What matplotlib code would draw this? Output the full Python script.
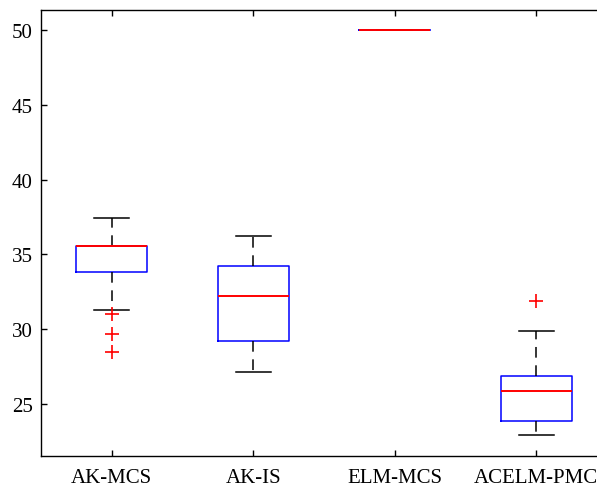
import matplotlib
matplotlib.use('Agg')
import matplotlib.pyplot as plt

plt.rcParams['font.family'] = ['Liberation Serif', 'DejaVu Serif']

# 箱线图数据
labels = ['AK-MCS', 'AK-IS', 'ELM-MCS', 'ACELM-PMC']
q1 = [33.85, 29.2, 50.0, 23.9]
med = [35.55, 32.2, 50.0, 25.9]
q3 = [35.55, 34.2, 50.0, 26.9]
whislo = [31.3, 27.15, 50.0, 22.9]
whishi = [37.4, 36.2, 50.0, 29.9]
fliers = [[31.0, 29.7, 28.45], [], [], [31.9]]

stats = []
for i in range(len(labels)):
    stats.append({'label': labels[i], 'q1': q1[i], 'med': med[i], 'q3': q3[i],
                  'whislo': whislo[i], 'whishi': whishi[i], 'fliers': fliers[i]})

fig = plt.figure(figsize=(5.97, 4.89), dpi=100)
ax = fig.add_axes([41 / 597, 32 / 489, 566 / 597, 446 / 489])

ax.bxp(stats, positions=[1, 2, 3, 4], widths=0.5, showfliers=True,
       boxprops=dict(color='blue', linewidth=1.1),
       medianprops=dict(color='red', linewidth=1.4, zorder=3),
       whiskerprops=dict(color='black', linewidth=1.1, linestyle=(0, (7, 5))),
       capprops=dict(color='black', linewidth=1.1),
       capwidths=0.25,
       flierprops=dict(marker='+', markeredgecolor='red', markersize=10,
                       markeredgewidth=1.2, linestyle='none'))

ax.set_xlim(0.5, 4.5)
ax.set_ylim(21.53, 51.33)
ax.set_yticks([25, 30, 35, 40, 45, 50])
ax.set_xticks([1, 2, 3, 4])
ax.set_xticklabels(labels)
ax.tick_params(direction='in', length=4, width=1, labelsize=15,
               top=True, right=True, colors='black')
ax.tick_params(axis='x', pad=9)
ax.tick_params(axis='y', pad=6)
for s in ax.spines.values():
    s.set_linewidth(1.0)

fig.savefig('out.png', dpi=100)
